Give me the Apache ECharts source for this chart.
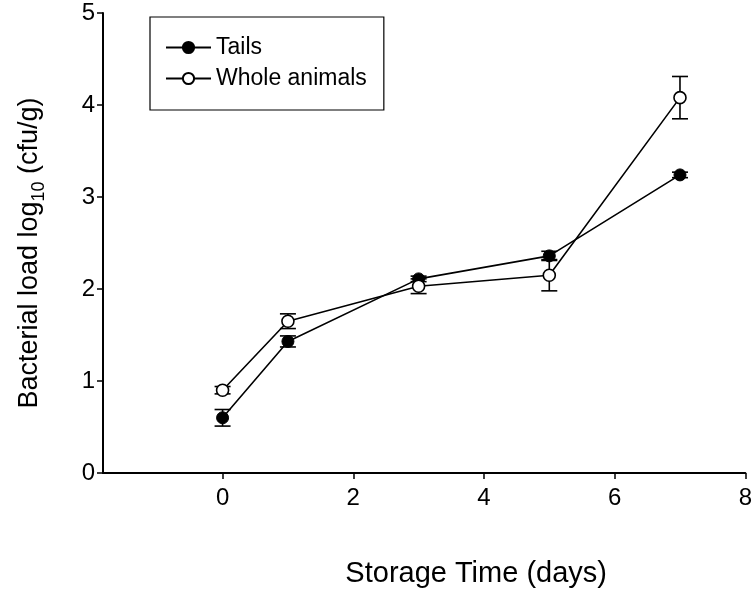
<!DOCTYPE html>
<html>
<head>
<meta charset="utf-8">
<script src="https://cdn.jsdelivr.net/npm/echarts@6/dist/echarts.min.js"></script>
<style>
html,body{margin:0;padding:0;background:#fff;}
#chart{width:755px;height:595px;}
</style>
</head>
<body>
<div id="chart"></div>
<script>
const days = [0, 1, 3, 5, 7];
const tailsMean = [0.60, 1.43, 2.11, 2.36, 3.24];
const tailsErr = [0.09, 0.06, 0.03, 0.05, 0.03];
const wholeMean = [0.90, 1.65, 2.03, 2.15, 4.08];
const wholeErr = [0.04, 0.08, 0.08, 0.17, 0.23];
const xTicks = [0, 2, 4, 6, 8];
const yTicks = [0, 1, 2, 3, 4, 5];
const seriesNames = ['Tails', 'Whole animals'];

const FONT = 'Arial, "Liberation Sans", sans-serif';

function errData(means, errs) {
  return days.map((d, i) => [d, means[i] - errs[i], means[i] + errs[i]]);
}

function errRender(params, api) {
  const x = api.value(0);
  const lo = api.coord([x, api.value(1)]);
  const hi = api.coord([x, api.value(2)]);
  const hw = 8;
  const style = { stroke: '#000', lineWidth: 1.6 };
  return {
    type: 'group',
    children: [
      { type: 'line', shape: { x1: lo[0], y1: lo[1], x2: hi[0], y2: hi[1] }, style },
      { type: 'line', shape: { x1: lo[0] - hw, y1: lo[1], x2: lo[0] + hw, y2: lo[1] }, style },
      { type: 'line', shape: { x1: hi[0] - hw, y1: hi[1], x2: hi[0] + hw, y2: hi[1] }, style }
    ]
  };
}

const chart = echarts.init(document.getElementById('chart'), null, { renderer: 'canvas' });
chart.setOption({
  animation: false,
  backgroundColor: '#fff',
  textStyle: { fontFamily: FONT },
  grid: { left: 103, right: 9, top: 13, bottom: 122, containLabel: false },
  legend: {
    data: seriesNames,
    orient: 'vertical',
    left: 150,
    top: 17,
    borderColor: '#000',
    borderWidth: 1.2,
    borderRadius: 0,
    padding: [19, 17, 20, 15],
    itemGap: 8,
    itemWidth: 45,
    itemHeight: 14,
    textStyle: { fontSize: 23, color: '#000', fontFamily: FONT }
  },
  xAxis: {
    type: 'value',
    min: -1.83,
    max: 8,
    name: 'Storage Time (days)',
    nameLocation: 'middle',
    nameGap: 86,
    nameTextStyle: { fontSize: 29, color: '#000', fontFamily: FONT, padding: [0, 0, 0, 104] },
    axisLine: { onZero: false, lineStyle: { color: '#000', width: 2 } },
    axisTick: { show: true, inside: false, length: 6, customValues: xTicks, lineStyle: { color: '#000', width: 1.5 } },
    axisLabel: { customValues: xTicks, fontSize: 24, color: '#000', margin: 13, fontFamily: FONT },
    splitLine: { show: false }
  },
  yAxis: {
    type: 'value',
    min: 0,
    max: 5,
    interval: 1,
    name: '{a|Bacterial load log}{b|10}{a| (cfu/g)}',
    nameLocation: 'middle',
    nameGap: 55,
    nameTextStyle: {
      color: '#000',
      fontFamily: FONT,
      padding: [0, 20, 0, 0],
      rich: {
        a: { fontSize: 27, color: '#000', fontFamily: FONT, lineHeight: 36, verticalAlign: 'middle' },
        b: { fontSize: 18, color: '#000', fontFamily: FONT, lineHeight: 18, verticalAlign: 'bottom' }
      }
    },
    axisLine: { show: true, onZero: false, lineStyle: { color: '#000', width: 2 } },
    axisTick: { show: true, inside: false, length: 6, customValues: yTicks, lineStyle: { color: '#000', width: 1.5 } },
    axisLabel: { customValues: yTicks, fontSize: 24, color: '#000', margin: 8, fontFamily: FONT },
    splitLine: { show: false }
  },
  series: [
    {
      type: 'custom',
      name: 'tailsErr',
      renderItem: errRender,
      data: errData(tailsMean, tailsErr),
      encode: { x: 0, y: [1, 2] },
      z: 1,
      silent: true
    },
    {
      type: 'custom',
      name: 'wholeErr',
      renderItem: errRender,
      data: errData(wholeMean, wholeErr),
      encode: { x: 0, y: [1, 2] },
      z: 1,
      silent: true
    },
    {
      type: 'line',
      name: seriesNames[0],
      data: days.map((d, i) => [d, tailsMean[i]]),
      symbol: 'circle',
      symbolSize: 12,
      itemStyle: { color: '#000', borderColor: '#000', borderWidth: 1 },
      lineStyle: { color: '#000', width: 1.6 },
      z: 3
    },
    {
      type: 'line',
      name: seriesNames[1],
      data: days.map((d, i) => [d, wholeMean[i]]),
      symbol: 'circle',
      symbolSize: 12,
      itemStyle: { color: '#fff', borderColor: '#000', borderWidth: 1.6 },
      lineStyle: { color: '#000', width: 1.6 },
      z: 3
    }
  ]
});
</script>
</body>
</html>
